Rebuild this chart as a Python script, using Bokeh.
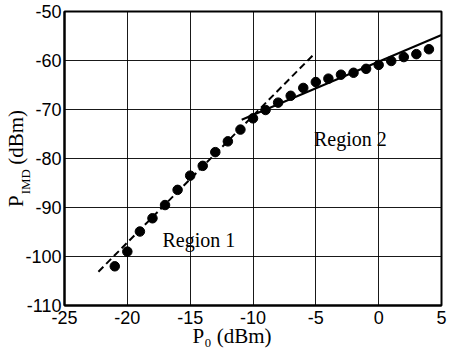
import math
from bokeh.plotting import figure
from bokeh.models import Label, FixedTicker
from bokeh.embed import file_html
from bokeh.resources import INLINE

# ---- data ----
p0_dbm = [-21, -20, -19, -18, -17, -16, -15, -14, -13, -12, -11, -10, -9,
          -8, -7, -6, -5, -4, -3, -2, -1, 0, 1, 2, 3, 4]
pimd_dbm = [-102.0, -99.0, -94.9, -92.2, -89.5, -86.4, -83.5, -81.5, -78.7,
            -76.5, -74.1, -71.8, -70.1, -68.6, -67.2, -65.6, -64.4, -63.7,
            -62.9, -62.5, -61.7, -60.9, -60.1, -59.3, -58.7, -57.7]

# fitted asymptote lines (end points)
region1_x = [-22.3, -5.1]
region1_y = [-103.1, -58.6]
region2_x = [-10.9, 5.0]
region2_y = [-72.1, -54.8]

x_ticks = [-25, -20, -15, -10, -5, 0, 5]
y_ticks = [-110, -100, -90, -80, -70, -60, -50]

SANS = "Liberation Sans"
SERIF = "Liberation Serif"
NB = "\u00a0"

p = figure(width=456, height=350, x_range=(-25, 5), y_range=(-110, -50),
           output_backend="svg", toolbar_location=None,
           min_border_left=64, min_border_right=7,
           min_border_top=11, min_border_bottom=10)
p.background_fill_color = "white"
p.border_fill_color = "white"
p.outline_line_color = "black"
p.outline_line_width = 2

for ax in (p.xaxis[0], p.yaxis[0]):
    ax.major_tick_in = 0
    ax.major_tick_out = 0
    ax.minor_tick_in = 0
    ax.minor_tick_out = 0
    ax.axis_line_color = "black"
    ax.axis_line_width = 2
    ax.major_label_text_font = SANS
    ax.major_label_text_font_size = "18px"
    ax.major_label_text_color = "black"
    ax.axis_label_text_font = SERIF
    ax.axis_label_text_font_size = "21px"
    ax.axis_label_text_font_style = "normal"
    ax.axis_label_text_color = "black"

p.xaxis[0].ticker = FixedTicker(ticks=x_ticks)
p.yaxis[0].ticker = FixedTicker(ticks=y_ticks)
p.xaxis[0].major_label_overrides = {t: str(t) for t in x_ticks}
p.yaxis[0].major_label_overrides = {t: str(t) for t in y_ticks}
p.xaxis[0].major_label_standoff = 5
p.yaxis[0].major_label_standoff = 3
p.xaxis[0].axis_label_standoff = -3
p.yaxis[0].axis_label_standoff = -6

p.xaxis[0].axis_label = "P\u2080 (dBm)" + NB * 8
p.yaxis[0].axis_label = "P" + NB * 5 + "\u2009(dBm)"

p.xgrid[0].ticker = FixedTicker(ticks=x_ticks)
p.ygrid[0].ticker = FixedTicker(ticks=y_ticks)
for g in (p.xgrid[0], p.ygrid[0]):
    g.grid_line_color = "black"
    g.grid_line_width = 1
    g.grid_line_alpha = 0.9

p.line(region1_x, region1_y, line_color="black", line_width=2, line_dash="7 4")
p.line(region2_x, region2_y, line_color="black", line_width=2)
p.scatter(p0_dbm, pimd_dbm, size=9.5, marker="circle",
          fill_color="black", line_color="black")

def lab(x, y, text, size, angle=0.0, place="center"):
    lbl = Label(x=x, y=y, text=text, text_font=SERIF,
                text_font_size=size, text_color="black",
                text_align="left", text_baseline="alphabetic", angle=angle)
    if place == "center":
        p.add_layout(lbl)
    else:
        p.add_layout(lbl, place)

lab(-17.2, -96.7, "Region 1", "20px")
lab(-5.15, -76.1, "Region 2", "20px")

# subscript of the y-axis title (P_IMD); a side panel is not clipped to the frame
lab(-28.1, -87.3, "IMD", "13px", angle=math.pi / 2, place="right")

open("out.html", "w").write(file_html(p, INLINE))
